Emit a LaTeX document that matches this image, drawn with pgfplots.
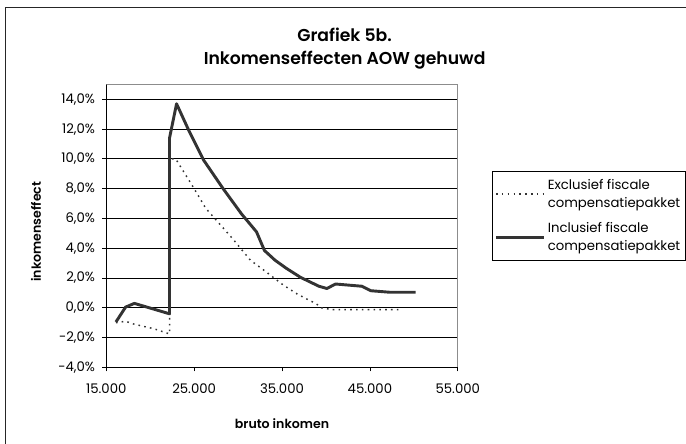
\documentclass[border=0pt]{standalone}
\usepackage{fontspec}
\setmainfont{Poppins}
\newfontfamily\semib{Poppins}[UprightFont={* SemiBold}]
\usepackage{pgfplots}
\pgfplotsset{compat=1.18}

\definecolor{lijn}{HTML}{333333}

\begin{document}
\begin{tikzpicture}
\begin{scope}[x=0.75pt,y=-0.75pt]
  \path[use as bounding box] (0,0) rectangle (686,447);
  \draw[black!85, line width=0.75pt] (6,8) rectangle (700,470);
  \node[font=\fontsize{13}{16}\selectfont\semib, anchor=base] at (347,42) {Grafiek 5b.};
  \node[font=\fontsize{13}{16}\selectfont\semib, anchor=base] at (347,65) {Inkomenseffecten AOW gehuwd};
\end{scope}
\begin{axis}[
  at={(80.25pt,-277.5pt)}, anchor=south west,
  scale only axis, width=265.5pt, height=213.75pt,
  xmin=15000, xmax=55000, ymin=-4, ymax=15,
  xtick={15000,25000,35000,45000,55000},
  ytick={-4,-2,0,2,4,6,8,10,12,14},
  axis lines*=left, axis line style={black, line width=0.75pt, -},
  tick align=outside, major tick length=3pt,
  tick style={black, line width=0.6pt},
  ymajorgrids, major grid style={black, line width=0.6pt},
  scaled x ticks=false,
  /pgf/number format/assume math mode=true,
  xticklabel={\pgfmathprintnumber[fixed,precision=0,1000 sep={.}]{\tick}},
  yticklabel={\pgfmathprintnumber[fixed,fixed zerofill,precision=1,use comma]{\tick}\%},
  ticklabel style={font=\fontsize{10}{11}\selectfont},
  xticklabel style={yshift=-6pt},
  yticklabel style={xshift=-2pt},
  xlabel={bruto inkomen}, ylabel={inkomenseffect},
  label style={font=\fontsize{9.5}{11}\selectfont\semib},
  xlabel style={at={(axis description cs:0.5,-0.2)}, anchor=center},
  ylabel style={at={(axis description cs:-0.2,0.48)}, anchor=center},
  legend style={at={(axis description cs:1.096,0.695)}, anchor=north west,
    draw=black, line width=0.6pt, font=\fontsize{10}{13.5}\selectfont,
    cells={align=left, anchor=west}, inner xsep=2pt, inner ysep=4pt,
    row sep=6pt},
  legend image code/.code={\draw[#1] (0pt,0pt) -- (36pt,0pt);},
]
\draw[black!45, line width=0.75pt] (rel axis cs:0,1) -- (rel axis cs:1,1) -- (rel axis cs:1,0);
\addplot[lijn, line width=1.1pt, dash pattern=on 1.2pt off 3.2pt] coordinates {
  (16100,-1.0) (17200,-0.9) (18200,-1.1) (20400,-1.4) (22200,-1.75)
  (22200,10.0) (22900,10.0) (24900,8.1) (26300,6.7) (27200,6.1)
  (29300,4.7) (31400,3.2) (33000,2.5) (35100,1.55) (36800,0.9)
  (38900,0.27) (39500,0.0) (40700,-0.12) (48300,-0.12)
};
\addlegendentry{Exclusief fiscale\\compensatiepakket}
\addplot[lijn, line width=2.2pt, line join=round] coordinates {
  (16100,-0.95) (17200,0.05) (18200,0.3) (22200,-0.4) (22200,11.4)
  (23000,13.7) (24400,11.9) (26100,9.9) (28300,8.0) (30400,6.3)
  (32100,5.1) (33000,3.85) (34200,3.2) (35500,2.65) (37100,2.05)
  (39200,1.45) (40100,1.3) (41100,1.6) (44100,1.45) (45100,1.15)
  (47200,1.05) (50200,1.05)
};
\addlegendentry{Inclusief fiscale\\compensatiepakket}
\end{axis}
\end{tikzpicture}
\end{document}
